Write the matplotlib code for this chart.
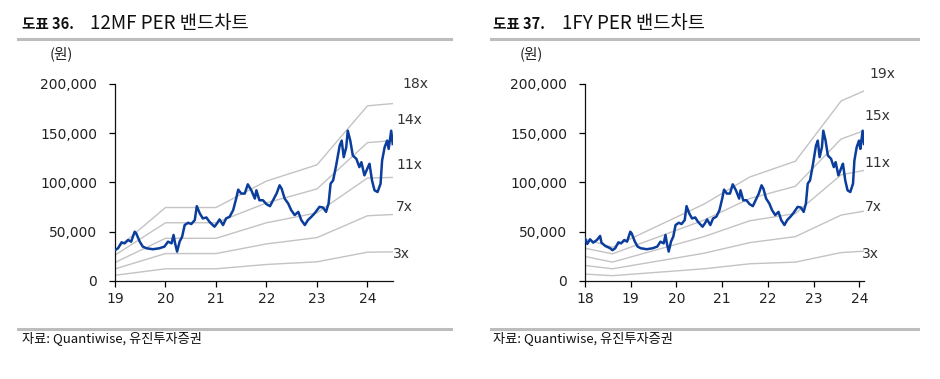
import matplotlib
matplotlib.use("Agg")
import matplotlib.pyplot as plt
from matplotlib.ticker import FuncFormatter

plt.rcParams['font.family'] = ['DejaVu Sans', 'Noto Sans CJK KR']

# ---------------- data ----------------
# share price (calendar time, fractional years)
price_t = [18.40, 18.45, 18.51, 18.58, 18.66, 18.73, 18.76, 18.84, 18.95,
           19.00, 19.06, 19.13, 19.19, 19.26, 19.32, 19.39, 19.42, 19.49, 19.55,
           19.62, 19.75, 19.88, 19.98, 20.05, 20.12, 20.16, 20.19, 20.23, 20.28,
           20.33, 20.38, 20.45, 20.51, 20.58, 20.62, 20.68, 20.74, 20.81, 20.87,
           20.97, 21.02, 21.07, 21.14, 21.20, 21.27, 21.34, 21.40, 21.44, 21.50,
           21.57, 21.63, 21.70, 21.77, 21.80, 21.86, 21.93, 22.00, 22.07, 22.13,
           22.20, 22.26, 22.30, 22.36, 22.43, 22.49, 22.56, 22.63, 22.69, 22.76,
           22.82, 22.89, 22.95, 23.05, 23.12, 23.18, 23.23, 23.27, 23.32, 23.38,
           23.45, 23.49, 23.53, 23.58, 23.61, 23.66, 23.71, 23.78, 23.84, 23.88,
           23.94, 24.01, 24.04, 24.09, 24.14, 24.20, 24.26, 24.29, 24.34, 24.39,
           24.42, 24.47, 24.50]
price_v = [43100, 37400, 42100, 38700, 41400, 45500, 38700, 35400, 33000,
           31000, 33000, 39000, 38000, 41400, 39700, 49800, 48100, 39700, 34700,
           33000, 32000, 33000, 34700, 39700, 38000, 46500, 38000, 29600, 39700,
           44800, 56600, 58900, 57600, 61600, 75800, 68300, 63300, 64300, 59900,
           54900, 58200, 62300, 56600, 63300, 65000, 71700, 83500, 92600, 88600,
           88600, 98000, 91900, 83500, 91900, 81800, 81800, 77800, 75800, 81800,
           88600, 97000, 93600, 83500, 78500, 71700, 66700, 70000, 61600, 56600,
           61600, 65000, 68300, 75100, 74400, 70000, 78500, 98700, 102000, 117200,
           137400, 142400, 125600, 135700, 152500, 142400, 127300, 123900, 115500, 120500,
           107100, 115500, 118900, 102000, 91900, 90200, 98700, 122200, 135700, 142400,
           134000, 152500, 139000]

# 12MF PER band (left chart)
mf_t = [19.0, 20.0, 21.0, 22.0, 23.0, 24.0, 24.5]
mf_bands = {
    '18x': [31000, 74400, 74400, 101300, 117800, 177800, 180100],
    '14x': [26000, 58900, 58900, 79100, 93300, 140400, 142400],
    '11x': [18500, 43100, 43100, 58900, 69000, 104400, 105000],
    '7x':  [12000, 27600, 27600, 37400, 43800, 66000, 67300],
    '3x':  [5500, 12100, 12100, 16500, 19200, 29000, 29300],
}
# 1FY PER band (right chart)
fy_t = [18.4, 19.0, 21.0, 22.0, 23.0, 24.0, 24.5]
fy_bands = {
    '19x': [42400, 34000, 77800, 105400, 121500, 182800, 192900],
    '15x': [33000, 27300, 61600, 83500, 96000, 144100, 152500],
    '11x': [24600, 18900, 44800, 60900, 68300, 107700, 112100],
    '7x':  [15500, 12100, 27900, 38700, 44800, 66700, 70700],
    '3x':  [6700, 5100, 12100, 17200, 18900, 28600, 30000],
}

mf_ticks = ['19', '20', '21', '22', '23', '24']
fy_ticks = ['18', '19', '20', '21', '22', '23', '24']
fy_axis_shift = 0.4   # 1FY chart's year labels sit 0.4y before calendar points

# label positions (data coords) for the band names
mf_label_pos = {'18x': (24.70, 200000), '14x': (24.58, 163400), '11x': (24.58, 117600),
                '7x': (24.56, 74900), '3x': (24.50, 27200)}
fy_label_pos = {'19x': (24.62, 210000), '15x': (24.52, 167000), '11x': (24.52, 120000),
                '7x': (24.52, 74900), '3x': (24.45, 27200)}

W, H = 940, 379
fig = plt.figure(figsize=(W / 100, H / 100), dpi=100)

BLUE = '#0b3d9c'
GRAY = '#c3c3c3'
TXT = '#222222'
KFONT = ['Noto Sans CJK KR', 'DejaVu Sans']


def fx(px):
    return px / W


def fy(py):
    return 1 - py / H


def make_axes(x0, x1, y0=84, y1=280.7):
    return fig.add_axes([fx(x0), fy(y1), fx(x1 - x0), (y1 - y0) / H])


def style(ax):
    ax.set_ylim(0, 200000)
    ax.set_yticks([0, 50000, 100000, 150000, 200000])
    ax.yaxis.set_major_formatter(FuncFormatter(lambda v, p: f'{int(v):,}'))
    for s in ['top', 'right']:
        ax.spines[s].set_visible(False)
    for s in ['left', 'bottom']:
        ax.spines[s].set_linewidth(0.9)
        ax.spines[s].set_color('#111111')
    ax.tick_params(axis='y', direction='out', length=4, width=0.9, pad=9,
                   labelsize=10, labelcolor=TXT)
    ax.tick_params(axis='x', direction='out', length=4, width=0.9, pad=4,
                   labelsize=10, labelcolor=TXT)
    ax.patch.set_alpha(0)


# ---------- left chart ----------
axL = make_axes(115, 392.7)
for name, vals in mf_bands.items():
    axL.plot(mf_t, vals, color=GRAY, lw=1.0, zorder=1)
    lx, ly = mf_label_pos[name]
    axL.text(lx, ly, name, fontsize=10, color='#333333', va='center', ha='left',
             clip_on=False)
left_t = [t for t in price_t if t >= 19.0]
left_v = [v for t, v in zip(price_t, price_v) if t >= 19.0]
axL.plot(left_t, left_v, color=BLUE, lw=1.8, zorder=3)
axL.set_xlim(19.0, 24.5)
axL.set_xticks([19 + i for i in range(len(mf_ticks))])
axL.set_xticklabels(mf_ticks)
style(axL)

# ---------- right chart ----------
axR = make_axes(585, 864)
for name, vals in fy_bands.items():
    axR.plot(fy_t, vals, color=GRAY, lw=1.0, zorder=1)
    lx, ly = fy_label_pos[name]
    axR.text(lx, ly, name, fontsize=10, color='#333333', va='center', ha='left',
             clip_on=False)
axR.plot(price_t, price_v, color=BLUE, lw=1.8, zorder=3)
axR.set_xlim(18.0 + fy_axis_shift, 24.5)
axR.set_xticks([18 + i + fy_axis_shift for i in range(len(fy_ticks))])
axR.set_xticklabels(fy_ticks)
style(axR)

# ---------- titles, rules, notes ----------
for (x_num, x_title, label, title, x_rule0, x_rule1, x_unit, x_src) in [
        (22, 90, '도표 36.', '12MF PER 밴드차트', 18, 451, 50, 22),
        (493, 562, '도표 37.', '1FY PER 밴드차트', 491, 918, 520, 493)]:
    fig.text(fx(x_num), fy(24), label, fontsize=10.5, fontweight='bold',
             family=KFONT, color='#111111', va='center', ha='left')
    fig.text(fx(x_title), fy(23), title, fontsize=13.5, family=KFONT,
             color='#111111', va='center', ha='left')
    fig.add_artist(plt.Line2D([fx(x_rule0), fx(x_rule1)], [fy(38.5), fy(38.5)],
                              color='#bdbdbd', lw=2.2))
    fig.text(fx(x_unit), fy(54), '(원)', fontsize=10.5, family=KFONT,
             color='#222222', va='center', ha='left')
    fig.add_artist(plt.Line2D([fx(x_rule0), fx(x_rule1)], [fy(329), fy(329)],
                              color='#bdbdbd', lw=2.2))
    fig.text(fx(x_src), fy(338.5), '자료: Quantiwise, 유진투자증권', fontsize=9.5,
             family=KFONT, color='#111111', va='center', ha='left')

fig.savefig('out.png', dpi=100)
